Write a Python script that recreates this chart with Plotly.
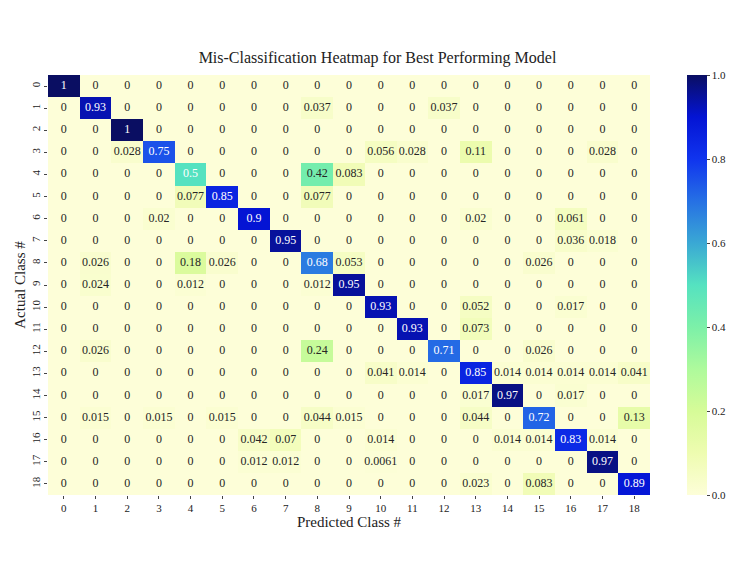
import plotly.graph_objects as go

# Class labels (0..18) for both axes
classes = list(range(19))

# Non-zero cells of the normalised confusion matrix (row = actual, col = predicted)
actual = [0, 1, 1, 1, 2,
          3, 3, 3, 3, 3, 3,
          4, 4, 4,
          5, 5, 5,
          6, 6, 6, 6,
          7, 7, 7,
          8, 8, 8, 8, 8, 8,
          9, 9, 9, 9,
          10, 10, 10,
          11, 11,
          12, 12, 12, 12,
          13, 13, 13, 13, 13, 13, 13, 13,
          14, 14, 14,
          15, 15, 15, 15, 15, 15, 15, 15,
          16, 16, 16, 16, 16, 16, 16,
          17, 17, 17, 17,
          18, 18, 18]
predicted = [0, 1, 8, 12, 2,
             2, 3, 10, 11, 13, 17,
             4, 8, 9,
             4, 5, 8,
             3, 6, 13, 16,
             7, 16, 17,
             1, 4, 5, 8, 9, 15,
             1, 4, 8, 9,
             10, 13, 16,
             11, 13,
             1, 8, 12, 15,
             10, 11, 13, 14, 15, 16, 17, 18,
             13, 14, 16,
             1, 3, 5, 8, 9, 13, 15, 18,
             6, 7, 10, 14, 15, 16, 17,
             6, 7, 10, 17,
             13, 15, 18]
rate = [1, 0.93, 0.037, 0.037, 1,
        0.028, 0.75, 0.056, 0.028, 0.11, 0.028,
        0.5, 0.42, 0.083,
        0.077, 0.85, 0.077,
        0.02, 0.9, 0.02, 0.061,
        0.95, 0.036, 0.018,
        0.026, 0.18, 0.026, 0.68, 0.053, 0.026,
        0.024, 0.012, 0.012, 0.95,
        0.93, 0.052, 0.017,
        0.93, 0.073,
        0.026, 0.24, 0.71, 0.026,
        0.041, 0.014, 0.85, 0.014, 0.014, 0.014, 0.014, 0.041,
        0.017, 0.97, 0.017,
        0.015, 0.015, 0.015, 0.044, 0.015, 0.044, 0.72, 0.13,
        0.042, 0.07, 0.014, 0.014, 0.014, 0.83, 0.014,
        0.012, 0.012, 0.0061, 0.97,
        0.023, 0.083, 0.89]

# Build full matrix
z = [[0 for _ in classes] for _ in classes]
for a, p, r in zip(actual, predicted, rate):
    z[a][p] = r

colorscale = [
    [0.0, "#fdfed8"],
    [0.1, "#eefcb0"],
    [0.2, "#d6fb98"],
    [0.3, "#aefa9c"],
    [0.4, "#7cf0a8"],
    [0.5, "#55e2c0"],
    [0.6, "#3aa8d4"],
    [0.7, "#2670e4"],
    [0.8, "#1034ee"],
    [0.9, "#0414d4"],
    [1.0, "#0a0e62"],
]

font_family = "Times New Roman, Liberation Serif, Times, serif"

fig = go.Figure()
fig.add_trace(go.Heatmap(
    z=z, x=classes, y=classes,
    zmin=0, zmax=1,
    colorscale=colorscale,
    colorbar=dict(
        x=1.061, xanchor="left", y=0.5, yanchor="middle",
        len=1, lenmode="fraction", thickness=20, xpad=0, ypad=0,
        outlinewidth=0, ticks="outside", ticklen=3,
        tickvals=[0, 0.2, 0.4, 0.6, 0.8, 1.0],
        ticktext=["0.0", "0.2", "0.4", "0.6", "0.8", "1.0"],
        tickfont=dict(family=font_family, size=11, color="#222"),
    ),
    hovertemplate="Actual %{y}<br>Predicted %{x}<br>%{z}<extra></extra>",
))

# Cell labels: white on dark cells, dark on light ones
for dark in (False, True):
    xs, ys, ts = [], [], []
    for i in classes:
        for j in classes:
            v = z[i][j]
            if (v >= 0.5) == dark:
                xs.append(j)
                ys.append(i)
                ts.append(f"{v:.2g}")
    fig.add_trace(go.Scatter(
        x=xs, y=ys, text=ts, mode="text",
        textfont=dict(family=font_family, size=12,
                      color="white" if dark else "#262626"),
        hoverinfo="skip", showlegend=False,
    ))

fig.update_layout(
    width=739, height=570,
    margin=dict(l=40, r=97, t=67, b=83),
    paper_bgcolor="white", plot_bgcolor="white",
    font=dict(family=font_family, color="#222"),
    title=dict(
        text="Mis-Classification Heatmap for Best Performing Model",
        x=0.5, xanchor="center", xref="container", y=0.914, yanchor="middle",
        font=dict(family=font_family, size=16, color="#222"),
    ),
)
fig.update_xaxes(
    range=[-0.5, 18.5], tickvals=classes, ticks="outside", ticklen=3,
    showgrid=False, zeroline=False, showline=False,
    tickfont=dict(size=11),
    title=dict(text="Predicted Class #", font=dict(size=15), standoff=0),
)
fig.update_yaxes(
    range=[18.5, -0.5], tickvals=classes, ticks="outside", ticklen=3,
    tickangle=-90, showgrid=False, zeroline=False, showline=False,
    tickfont=dict(size=11),
    title=dict(text="Actual Class #", font=dict(size=15), standoff=0),
)

fig.write_html("out.html")
